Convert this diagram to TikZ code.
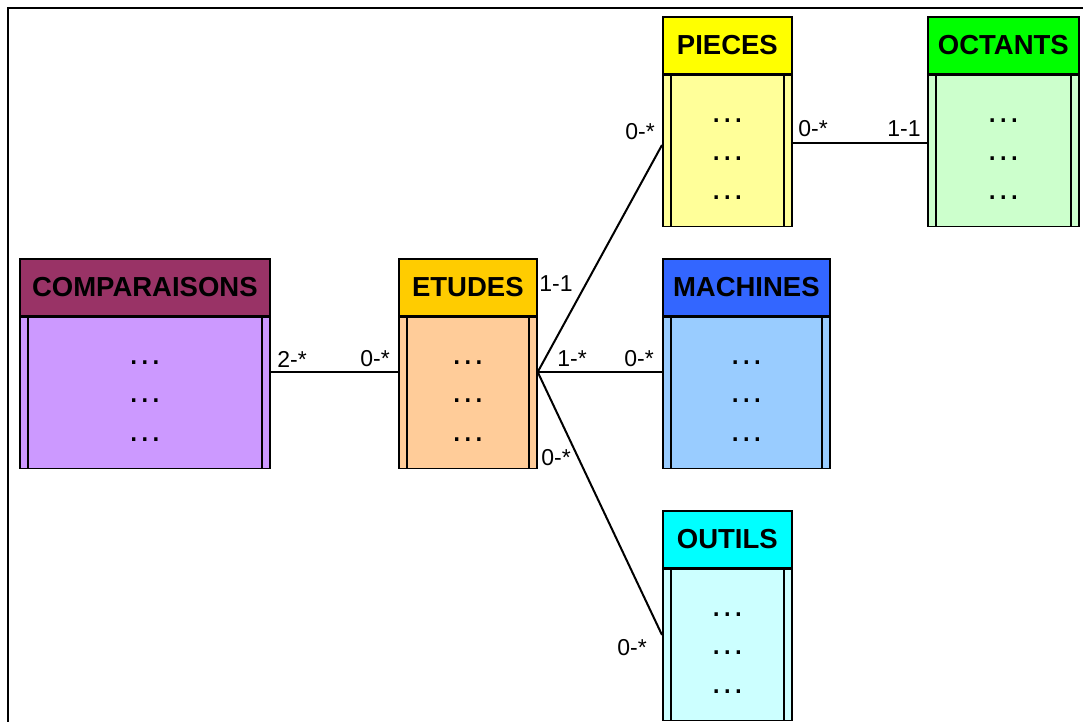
\documentclass[tikz,border=0pt]{standalone}
\usepackage{fontspec}
\setmainfont{Liberation Sans}
\usetikzlibrary{positioning}

\definecolor{compHead}{HTML}{993366}
\definecolor{compBody}{HTML}{CC99FF}
\definecolor{etuHead}{HTML}{FFCC00}
\definecolor{etuBody}{HTML}{FFCC99}
\definecolor{piecHead}{HTML}{FFFF00}
\definecolor{piecBody}{HTML}{FFFF99}
\definecolor{octHead}{HTML}{00FF00}
\definecolor{octBody}{HTML}{CCFFCC}
\definecolor{machHead}{HTML}{3366FF}
\definecolor{machBody}{HTML}{99CCFF}
\definecolor{outiHead}{HTML}{00FFFF}
\definecolor{outiBody}{HTML}{CCFFFF}

\tikzset{
    entete/.style={draw, line width=1.7pt, inner sep=0pt, minimum height=57pt,
        anchor=north west, font=\fontsize{27.5}{27.5}\selectfont\bfseries},
    corps/.style={draw, line width=1.7pt, inner sep=0pt, minimum height=151pt,
        path picture={
            \draw[line width=1.7pt] ([xshift=8pt]path picture bounding box.north west)
                -- ([xshift=8pt]path picture bounding box.south west);
            \draw[line width=1.7pt] ([xshift=-8pt]path picture bounding box.north east)
                -- ([xshift=-8pt]path picture bounding box.south east);
        }},
    points/.style={inner sep=0pt, anchor=base, font=\fontsize{35}{35}\selectfont},
    card/.style={inner sep=0pt, font=\fontsize{23}{23}\selectfont},
    lien/.style={line width=2pt}
}

\begin{document}
\begin{tikzpicture}[x=1pt, y=-1pt]
    \useasboundingbox (0,0) rectangle (1083,722);
    % Frame (cut at right and bottom)
    \draw[line width=2pt] (8,740) -- (8,8) -- (1100,8);

    % Entities: header + body
    \node[entete, fill=compHead, minimum width=250pt] (compH) at (19,258) {COMPARAISONS};
    \node[corps, fill=compBody, minimum width=250pt, below=0pt of compH] (comp) {};

    \node[entete, fill=etuHead, minimum width=138pt] (etuH) at (398,258) {ETUDES};
    \node[corps, fill=etuBody, minimum width=138pt, below=0pt of etuH] (etu) {};

    \node[entete, fill=piecHead, minimum width=129pt] (piecH) at (662,16) {PIECES};
    \node[corps, fill=piecBody, minimum width=129pt, below=0pt of piecH] (piec) {};

    \node[entete, fill=octHead, minimum width=151pt] (octH) at (927,16) {OCTANTS};
    \node[corps, fill=octBody, minimum width=151pt, below=0pt of octH] (oct) {};

    \node[entete, fill=machHead, minimum width=167pt] (machH) at (662,258) {MACHINES};
    \node[corps, fill=machBody, minimum width=167pt, below=0pt of machH] (mach) {};

    \node[entete, fill=outiHead, minimum width=129pt] (outiH) at (662,510) {OUTILS};
    \node[corps, fill=outiBody, minimum width=129pt, below=0pt of outiH] (outi) {};

    % Attribute placeholders
    \foreach \b in {comp, etu, piec, oct, mach, outi} {
        \foreach \k/\dy in {1/29, 2/-9.5, 3/-48} {
            \node[points] (\b-\k) at ([yshift=\dy pt]\b.center) {…};
        }
    }

    % Links
    \coordinate (hub) at (etu.east |- 0,372);
    \draw[lien] (comp.east |- hub) -- (etu.west |- hub);
    \draw[lien] (hub) -- (piec.west |- 0,145);
    \draw[lien] (hub) -- (mach.west |- hub);
    \draw[lien] (hub) -- (outi.west |- 0,635);
    \draw[lien] (piec.east |- 0,143) -- (oct.west |- 0,143);

    % Cardinalities
    \node[card] (c1) at (292,359) {2-*};
    \node[card] (c2) at (375,359) {0-*};
    \node[card] (c3) at (556,284) {1-1};
    \node[card] (c4) at (572,359) {1-*};
    \node[card] (c5) at (639,359) {0-*};
    \node[card] (c6) at (556,458) {0-*};
    \node[card] (c7) at (640,132) {0-*};
    \node[card] (c8) at (813,129) {0-*};
    \node[card] (c9) at (904,129) {1-1};
    \node[card] (c10) at (632,648) {0-*};
\end{tikzpicture}
\end{document}
